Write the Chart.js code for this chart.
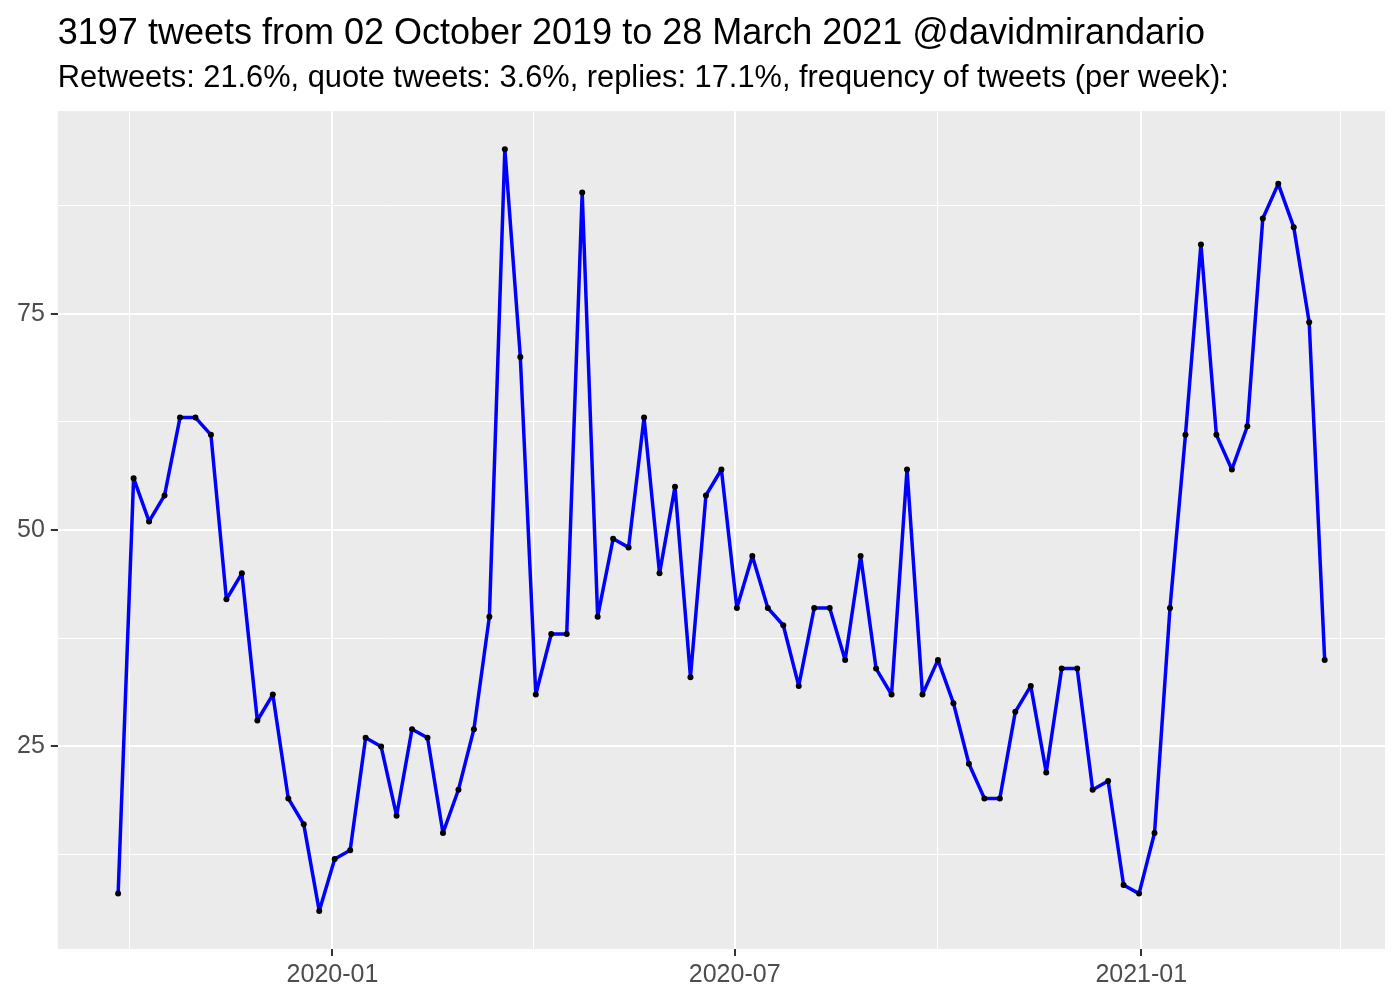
<!DOCTYPE html>
<html>
<head>
<meta charset="utf-8">
<title>Tweets per week</title>
<script src="https://cdn.jsdelivr.net/npm/chart.js@4.4.1/dist/chart.umd.min.js"></script>
<style>
  html, body { margin: 0; padding: 0; background: #fff; }
  #wrap { width: 1400px; height: 1000px; }
</style>
</head>
<body>
<div id="wrap"><canvas id="chart" width="1400" height="1000"></canvas></div>
<script>
// weekly buckets (thursdays) and tweet counts
const weeks = [
    '2019-09-26', '2019-10-03', '2019-10-10', '2019-10-17', '2019-10-24', '2019-10-31', '2019-11-07',
    '2019-11-14', '2019-11-21', '2019-11-28', '2019-12-05', '2019-12-12', '2019-12-19', '2019-12-26',
    '2020-01-02', '2020-01-09', '2020-01-16', '2020-01-23', '2020-01-30', '2020-02-06', '2020-02-13',
    '2020-02-20', '2020-02-27', '2020-03-05', '2020-03-12', '2020-03-19', '2020-03-26', '2020-04-02',
    '2020-04-09', '2020-04-16', '2020-04-23', '2020-04-30', '2020-05-07', '2020-05-14', '2020-05-21',
    '2020-05-28', '2020-06-04', '2020-06-11', '2020-06-18', '2020-06-25', '2020-07-02', '2020-07-09',
    '2020-07-16', '2020-07-23', '2020-07-30', '2020-08-06', '2020-08-13', '2020-08-20', '2020-08-27',
    '2020-09-03', '2020-09-10', '2020-09-17', '2020-09-24', '2020-10-01', '2020-10-08', '2020-10-15',
    '2020-10-22', '2020-10-29', '2020-11-05', '2020-11-12', '2020-11-19', '2020-11-26', '2020-12-03',
    '2020-12-10', '2020-12-17', '2020-12-24', '2020-12-31', '2021-01-07', '2021-01-14', '2021-01-21',
    '2021-01-28', '2021-02-04', '2021-02-11', '2021-02-18', '2021-02-25', '2021-03-04', '2021-03-11',
    '2021-03-18', '2021-03-25'
];
const tweets = [
    8, 56, 51, 54, 63, 63, 61, 42, 45, 28, 31, 19, 16, 6,
    12, 13, 26, 25, 17, 27, 26, 15, 20, 27, 40, 94, 70, 31,
    38, 38, 89, 40, 49, 48, 63, 45, 55, 33, 54, 57, 41, 47,
    41, 39, 32, 41, 41, 35, 47, 34, 31, 57, 31, 35, 30, 23,
    19, 19, 29, 32, 22, 34, 34, 20, 21, 9, 8, 15, 41, 61,
    83, 61, 57, 62, 86, 90, 85, 74, 35
];
// x grid: month starts, only some get a label
const xGridDates = ['2019-10-01', '2020-01-01', '2020-04-01', '2020-07-01', '2020-10-01', '2021-01-01', '2021-04-01'];
const xTickLabels = ['', '2020-01', '', '2020-07', '', '2021-01', ''];
const yGridValues = [12.5, 25, 37.5, 50, 62.5, 75, 87.5];
const yTickLabels = ['', '25', '', '50', '', '75', ''];

const titleText = '3197 tweets from 02 October 2019 to 28 March 2021 @davidmirandario';
const subtitleText = 'Retweets: 21.6%, quote tweets: 3.6%, replies: 17.1%, frequency of tweets (per week):';

const FONT = '"Liberation Sans", Arial, Helvetica, sans-serif';

const points = weeks.map((w, i) => ({ x: Date.parse(w), y: tweets[i] }));
const xGrid = xGridDates.map(d => Date.parse(d));

// ggplot style 5% expansion
const xFirst = points[0].x, xLast = points[points.length - 1].x;
const xPad = (xLast - xFirst) * 0.05;
const yMin = Math.min(...tweets), yMax = Math.max(...tweets);
const yPad = (yMax - yMin) * 0.05;

// grey panel behind the data
const panelBg = {
    id: 'panelBg',
    beforeDraw(chart) {
        const a = chart.chartArea;
        const ctx = chart.ctx;
        ctx.save();
        ctx.fillStyle = '#EBEBEB';
        ctx.fillRect(a.left, a.top, a.right - a.left, a.bottom - a.top);
        ctx.restore();
    }
};

const ctx = document.getElementById('chart').getContext('2d');
new Chart(ctx, {
    type: 'line',
    data: {
        datasets: [{
            data: points,
            borderColor: '#0000FF',
            borderWidth: 3.5,
            borderJoinStyle: 'round',
            borderCapStyle: 'round',
            tension: 0,
            fill: false,
            pointRadius: 3,
            pointBackgroundColor: '#000000',
            pointBorderWidth: 0,
            pointHoverRadius: 3
        }]
    },
    options: {
        responsive: false,
        animation: false,
        events: [],
        layout: { padding: { left: 11, right: 15, top: 0, bottom: 6 } },
        plugins: {
            legend: { display: false },
            tooltip: { enabled: false },
            title: {
                display: true,
                text: titleText,
                align: 'start',
                fullSize: false,
                color: '#000000',
                font: { family: FONT, size: 36, weight: 'normal', lineHeight: 1.2 },
                padding: { top: 12, bottom: 0 }
            },
            subtitle: {
                display: true,
                text: subtitleText,
                align: 'start',
                fullSize: false,
                color: '#000000',
                font: { family: FONT, size: 30.8, weight: 'normal', lineHeight: 1.2 },
                padding: { top: 5, bottom: 14 }
            }
        },
        scales: {
            x: {
                type: 'linear',
                min: xFirst - xPad,
                max: xLast + xPad,
                afterBuildTicks: axis => {
                    axis.ticks = xGrid.map(v => ({ value: v }));
                },
                ticks: {
                    autoSkip: false,
                    maxRotation: 0,
                    padding: 4,
                    color: '#4D4D4D',
                    font: { family: FONT, size: 25 },
                    callback: (value, i) => xTickLabels[i]
                },
                grid: {
                    color: '#FFFFFF',
                    lineWidth: c => (xTickLabels[c.index] ? 2 : 1),
                    drawTicks: true,
                    tickLength: 7,
                    tickWidth: 2,
                    tickColor: c => (xTickLabels[c.index] ? '#333333' : 'rgba(0,0,0,0)')
                },
                border: { display: false }
            },
            y: {
                type: 'linear',
                min: yMin - yPad,
                max: yMax + yPad,
                afterBuildTicks: axis => {
                    axis.ticks = yGridValues.map(v => ({ value: v }));
                },
                ticks: {
                    autoSkip: false,
                    padding: 6,
                    color: '#4D4D4D',
                    font: { family: FONT, size: 25 },
                    callback: (value, i) => yTickLabels[i]
                },
                grid: {
                    color: '#FFFFFF',
                    lineWidth: c => (yTickLabels[c.index] ? 2 : 1),
                    drawTicks: true,
                    tickLength: 7,
                    tickWidth: 2,
                    tickColor: c => (yTickLabels[c.index] ? '#333333' : 'rgba(0,0,0,0)')
                },
                border: { display: false }
            }
        }
    },
    plugins: [panelBg]
});
</script>
</body>
</html>
